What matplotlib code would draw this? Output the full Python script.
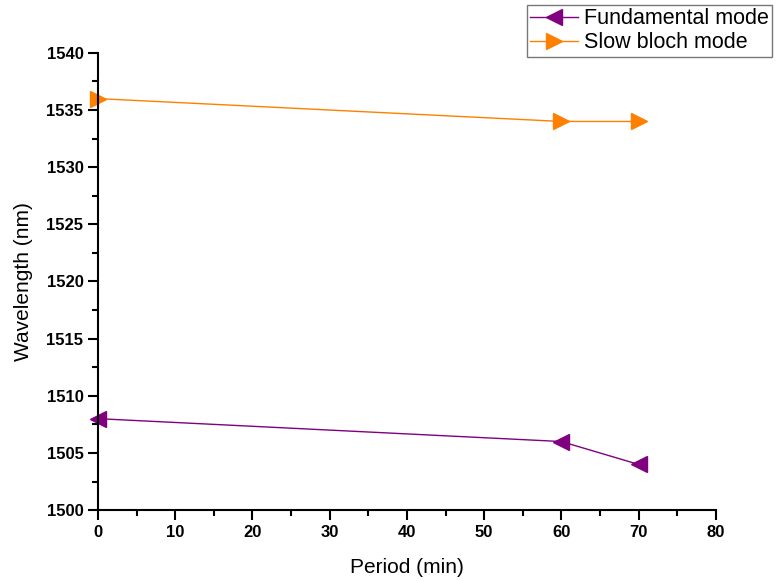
import numpy as np
import matplotlib.pyplot as plt

plt.rcParams['font.family'] = ['Liberation Sans', 'DejaVu Sans']

period = [0, 60, 70]
fundamental = [1508, 1506, 1504]
slow_bloch = [1536, 1534, 1534]

fig = plt.figure(figsize=(7.78, 5.81), dpi=100)
ax = fig.add_axes([0.126, 0.122, 0.794, 0.787])

ax.plot(period, fundamental, color='#800080', lw=1, marker='<', ms=11,
        label='Fundamental mode', clip_on=False)
ax.plot(period, slow_bloch, color='#ff8000', lw=1, marker='>', ms=11,
        label='Slow bloch mode', clip_on=False)

ax.set_xlim(0, 80)
ax.set_ylim(1500, 1540)
ax.set_xticks(np.arange(0, 81, 10))
ax.set_yticks(np.arange(1500, 1541, 5))
ax.set_xticks(np.arange(5, 80, 10), minor=True)
ax.set_yticks(np.arange(1502.5, 1540, 5), minor=True)
ax.spines['top'].set_visible(False)
ax.spines['right'].set_visible(False)
ax.spines['left'].set_linewidth(1.5)
ax.spines['bottom'].set_linewidth(1.5)
ax.tick_params(which='major', direction='out', length=7, width=1.5, labelsize=12)
ax.tick_params(which='minor', direction='out', length=4, width=1.5)
for lab in ax.get_xticklabels() + ax.get_yticklabels():
    lab.set_fontweight('bold')

ax.set_xlabel('Period (min)', fontsize=15, labelpad=13)
ax.set_ylabel('Wavelength (nm)', fontsize=15, labelpad=10)

leg = ax.legend(loc='upper left', bbox_to_anchor=(527/778, 1 - 5/581),
                bbox_transform=fig.transFigure, fontsize=15.5, frameon=True,
                fancybox=False, edgecolor='#555555', handlelength=2.2,
                handletextpad=0.3, borderpad=0.15, labelspacing=0.15, borderaxespad=0)
leg.get_frame().set_linewidth(1)

fig.savefig('out.png', dpi=100)
